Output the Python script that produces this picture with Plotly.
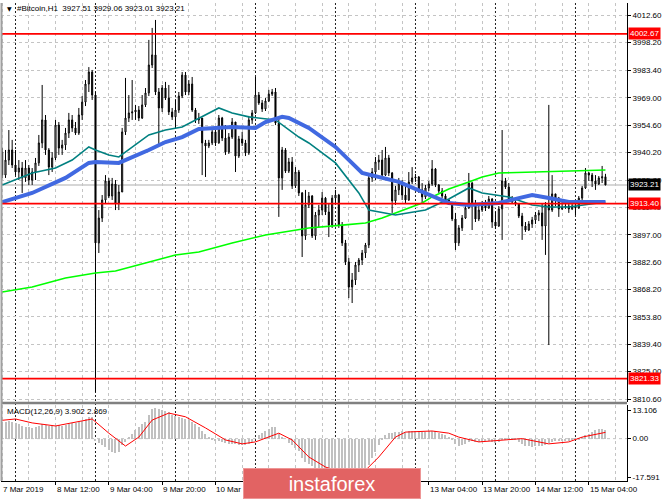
import datetime as dt
import plotly.graph_objects as go

# ---------------- data ----------------
symbol_title = "#Bitcoin,H1"
last_ohlc = [3927.51, 3929.06, 3923.01, 3923.21]
first_open = 3940.5

close = [3928.4, 3936.3, 3941.6, 3933.7, 3930.0, 3932.1, 3926.9, 3932.1, 3925.8, 3930.0,
         3934.8, 3945.3, 3957.4, 3941.6, 3932.6, 3937.4, 3954.7, 3942.6, 3944.2, 3950.5,
         3957.4, 3953.2, 3950.5, 3960.0, 3966.8, 3976.3, 3982.6, 3970.5, 3892.7, 3905.8,
         3915.3, 3925.3, 3917.4, 3923.7, 3913.7, 3919.5, 3951.1, 3958.4, 3961.1, 3961.6,
         3962.6, 3958.4, 3965.3, 3971.6, 3986.3, 3991.6, 3972.1, 3963.7, 3974.2, 3968.9,
         3961.6, 3959.0, 3962.6, 3970.0, 3981.0, 3972.1, 3976.3, 3962.6, 3957.4, 3958.4,
         3945.3, 3943.7, 3945.3, 3951.1, 3945.3, 3958.4, 3947.9, 3940.5, 3948.4, 3956.3,
         3938.4, 3947.4, 3945.3, 3940.0, 3957.4, 3961.1, 3970.5, 3966.3, 3963.2, 3967.4,
         3971.0, 3972.1, 3955.8, 3926.9, 3941.6, 3930.5, 3935.3, 3922.7, 3930.0, 3919.0,
         3896.4, 3912.7, 3917.4, 3896.4, 3907.4, 3910.0, 3916.3, 3909.0, 3902.1, 3916.3,
         3917.9, 3902.1, 3892.7, 3882.7, 3869.5, 3873.2, 3881.1, 3883.7, 3887.4, 3891.6,
         3926.9, 3930.0, 3935.3, 3936.3, 3928.4, 3937.4, 3929.5, 3914.8, 3920.6, 3924.2,
         3917.9, 3915.3, 3924.8, 3926.9, 3927.4, 3920.6, 3916.9, 3921.6, 3923.7, 3931.6,
         3923.2, 3920.0, 3917.4, 3915.3, 3913.7, 3905.3, 3892.7, 3900.6, 3905.8, 3911.1,
         3924.2, 3912.7, 3905.3, 3910.0, 3912.7, 3911.1, 3915.8, 3903.7, 3901.6, 3910.6,
         3925.3, 3922.1, 3915.8, 3914.2, 3913.2, 3906.9, 3901.6, 3899.5, 3902.7, 3904.8,
         3907.4, 3908.5, 3901.6, 3912.7, 3910.0, 3918.5, 3916.3, 3910.6, 3911.6, 3912.1,
         3910.6, 3912.1, 3911.1, 3916.3, 3921.6, 3929.5, 3928.4, 3925.3, 3923.7, 3926.9,
         3927.51, 3923.21]

high = [3942.6, 3941.6, 3952.1, 3946.9, 3941.6, 3936.3, 3935.3, 3936.3, 3933.7, 3932.1,
        3937.4, 3949.5, 3975.8, 3960.0, 3942.6, 3940.5, 3957.4, 3956.3, 3946.9, 3953.2,
        3961.1, 3960.0, 3956.3, 3963.7, 3970.0, 3978.4, 3985.2, 3983.7, 3972.1, 3910.0,
        3917.9, 3928.4, 3926.9, 3926.9, 3925.8, 3923.2, 3953.2, 3979.5, 3970.5, 3978.4,
        3965.3, 3964.7, 3970.5, 3974.2, 3999.5, 4005.8, 4010.0, 3974.2, 3975.8, 3977.4,
        3975.8, 3963.7, 3967.9, 3972.1, 3982.6, 3982.6, 3978.4, 3980.0, 3963.7, 3961.1,
        3958.4, 3946.9, 3946.9, 3953.2, 3952.1, 3960.0, 3959.0, 3954.7, 3950.5, 3958.4,
        3956.3, 3949.0, 3951.1, 3946.9, 3959.5, 3962.6, 3980.0, 3972.1, 3967.9, 3968.9,
        3973.2, 3973.7, 3974.2, 3958.4, 3943.2, 3942.6, 3937.4, 3937.9, 3932.6, 3931.1,
        3919.5, 3920.6, 3919.5, 3917.9, 3909.0, 3912.7, 3919.5, 3916.9, 3913.2, 3917.9,
        3920.6, 3918.5, 3903.7, 3894.3, 3884.8, 3876.9, 3882.7, 3884.8, 3889.0, 3892.7,
        3927.9, 3932.1, 3937.9, 3939.0, 3941.6, 3943.2, 3939.0, 3930.0, 3922.7, 3926.9,
        3925.8, 3923.2, 3930.0, 3932.6, 3929.0, 3927.9, 3924.2, 3923.2, 3925.3, 3936.3,
        3932.1, 3923.7, 3921.6, 3918.5, 3915.8, 3914.2, 3908.5, 3902.1, 3907.4, 3912.7,
        3929.5, 3924.8, 3915.3, 3913.7, 3914.8, 3915.3, 3917.4, 3916.3, 3909.0, 3912.1,
        3952.1, 3926.9, 3924.2, 3917.4, 3915.8, 3913.7, 3908.5, 3903.7, 3904.2, 3906.4,
        3909.0, 3910.0, 3913.7, 3914.2, 3965.3, 3928.4, 3917.9, 3916.9, 3914.2, 3913.2,
        3914.2, 3913.2, 3913.7, 3917.4, 3922.7, 3932.1, 3930.0, 3929.5, 3928.4, 3927.9,
        3933.2, 3929.06]

low = [3926.9, 3926.9, 3933.7, 3932.1, 3928.4, 3925.8, 3919.0, 3924.8, 3923.2, 3923.2,
       3925.8, 3933.2, 3942.6, 3939.0, 3928.4, 3930.0, 3936.3, 3939.0, 3939.0, 3941.6,
       3947.9, 3951.1, 3949.5, 3949.5, 3957.4, 3964.7, 3972.1, 3967.9, 3814.3, 3887.4,
       3903.7, 3913.7, 3916.3, 3915.3, 3910.0, 3910.0, 3919.5, 3949.5, 3956.3, 3957.4,
       3957.4, 3956.8, 3957.9, 3964.2, 3970.0, 3984.7, 3970.5, 3944.2, 3961.6, 3967.9,
       3960.0, 3957.4, 3953.2, 3961.1, 3968.9, 3970.5, 3970.5, 3961.6, 3955.8, 3955.3,
       3928.4, 3927.4, 3942.6, 3944.2, 3943.7, 3944.9, 3946.3, 3939.0, 3939.5, 3947.4,
       3930.0, 3937.4, 3943.7, 3938.4, 3939.0, 3955.3, 3960.5, 3965.3, 3961.6, 3962.1,
       3966.8, 3970.0, 3954.7, 3906.4, 3920.6, 3929.5, 3929.5, 3921.1, 3921.6, 3917.4,
       3885.3, 3894.3, 3911.1, 3895.3, 3894.3, 3900.6, 3907.4, 3907.4, 3895.8, 3900.6,
       3913.7, 3900.6, 3891.1, 3881.1, 3863.7, 3861.1, 3870.6, 3877.4, 3881.1, 3884.8,
       3890.0, 3924.8, 3925.8, 3931.1, 3926.9, 3927.9, 3927.9, 3908.5, 3912.7, 3917.9,
       3915.3, 3913.7, 3914.8, 3923.7, 3924.8, 3919.0, 3913.7, 3915.8, 3920.0, 3922.7,
       3922.1, 3919.0, 3916.3, 3914.2, 3912.7, 3904.2, 3889.0, 3891.1, 3899.0, 3905.3,
       3910.6, 3899.5, 3903.7, 3904.2, 3909.0, 3909.5, 3910.6, 3900.6, 3900.0, 3901.1,
       3894.3, 3921.1, 3914.8, 3913.2, 3912.1, 3905.8, 3894.3, 3898.5, 3899.0, 3900.6,
       3902.7, 3904.2, 3894.3, 3886.4, 3839.0, 3909.0, 3912.1, 3906.4, 3910.0, 3910.6,
       3908.5, 3910.0, 3907.4, 3910.6, 3915.3, 3921.1, 3925.3, 3922.1, 3920.6, 3923.2,
       3924.2, 3923.01]

# moving averages (bar index -> value)
ma_blue_idx = [0, 9, 19, 26, 28, 35, 44, 49, 54, 59, 69, 76, 79, 84, 86, 92, 100, 108,
               119, 127, 134, 140, 149, 155, 159, 164, 170, 181]
ma_blue_val = [3914.2, 3919.0, 3926.9, 3934.8, 3935.3, 3934.8, 3941.6, 3945.8, 3948.4,
               3952.6, 3953.7, 3953.2, 3956.3, 3959.0, 3958.4, 3953.2, 3943.2, 3929.5,
               3924.8, 3919.0, 3913.7, 3912.7, 3913.7, 3916.3, 3917.9, 3916.3, 3914.2, 3914.2]
ma_teal_idx = [0, 9, 16, 21, 26, 28, 32, 35, 44, 49, 54, 59, 65, 69, 74, 82, 89, 92, 100,
               107, 110, 118, 127, 134, 140, 144, 152, 159, 164, 170, 176, 181]
ma_teal_val = [3923.2, 3929.5, 3932.1, 3936.3, 3943.2, 3941.6, 3939.0, 3937.9, 3949.5,
               3952.1, 3953.7, 3958.4, 3963.7, 3961.1, 3959.0, 3957.4, 3948.4, 3945.3,
               3934.8, 3919.0, 3910.0, 3907.4, 3910.0, 3915.8, 3921.6, 3919.0, 3916.9,
               3912.7, 3911.6, 3911.6, 3913.2, 3914.2]
ma_green_idx = [0, 9, 19, 28, 34, 44, 52, 59, 69, 79, 85, 92, 102, 109, 114, 118, 122,
                126, 129, 134, 140, 144, 149, 161, 171, 181]
ma_green_val = [3866.9, 3869.5, 3874.3, 3876.9, 3877.9, 3882.7, 3886.4, 3887.9, 3892.7,
                3896.9, 3898.5, 3900.6, 3902.1, 3903.2, 3905.8, 3908.5, 3911.1, 3913.7,
                3916.9, 3921.1, 3924.8, 3927.4, 3929.5, 3930.0, 3930.5, 3931.1]

# MACD(12,26,9): main (histogram) and signal
macd_main = [7.5, 7.8, 8.0, 7.6, 7.0, 6.5, 6.0, 5.5, 5.2, 5.0,
             5.3, 5.8, 6.5, 6.2, 5.8, 5.6, 6.0, 6.2, 6.0, 6.3,
             6.8, 7.0, 7.2, 7.6, 8.2, 9.0, 9.8, 10.0, -1.0, -2.0,
             -3.0, -4.0, -5.0, -6.0, -6.5, -6.0, -3.0, -1.5, 0.5, 2.0,
             4.0, 5.5, 6.5, 7.5, 11.0, 13.5, 14.0, 13.5, 13.0, 12.5,
             12.0, 11.0, 10.5, 10.0, 9.5, 9.0, 8.5, 7.5, 6.5, 5.5,
             3.5, 2.0, 0.5, -0.5, -1.0, -1.0, -1.5, -2.0, -2.5, -2.5,
             -2.5, -3.0, -3.0, -3.0, -2.5, -1.5, 0.0, 1.5, 2.5, 3.5,
             4.5, 5.5, 5.5, 2.0, 0.5, 0.0, -2.0, -3.0, -4.5, -5.5,
             -9.0, -10.5, -11.5, -12.5, -13.5, -14.0, -14.0, -14.5, -15.0, -15.0,
             -15.0, -15.5, -16.0, -16.5, -17.3, -17.591, -17.5, -17.0, -16.5, -15.5,
             -12.0, -9.0, -6.0, -3.0, -0.5, 1.5, 2.5, 2.5, 3.0, 3.2,
             3.3, 3.2, 3.3, 3.5, 3.6, 3.4, 3.2, 3.2, 3.3, 3.6,
             3.4, 2.8, 2.2, 1.5, 0.8, -0.5, -2.5, -3.2, -3.0, -2.6,
             -1.5, -1.2, -1.5, -1.6, -1.5, -1.3, -1.0, -1.4, -1.8, -1.5,
             -0.5, -0.3, -0.4, -0.5, -0.8, -1.5, -2.5, -3.3, -3.6, -3.7,
             -3.5, -3.3, -3.5, -3.0, -2.2, -1.5, -1.2, -1.2, -1.1, -1.0,
             -0.9, -0.8, -0.5, -0.2, 0.5, 1.5, 2.3, 3.0, 3.8, 4.2,
             4.4, 3.902]
macd_signal_idx = [0, 4, 9, 16, 27, 32, 37, 41, 45, 50, 55, 61, 67, 72, 76, 83, 87, 92,
                   97, 100, 104, 109, 113, 118, 121, 129, 134, 137, 143, 152, 156, 164,
                   170, 174, 181]
macd_signal_val = [8.4, 9.0, 7.2, 5.8, 9.0, 2.5, -3.4, 0.7, 8.5, 11.7, 10.0, 4.9, -0.6,
                   -2.4, -1.5, 2.5, -0.6, -8.4, -13.0, -14.5, -15.0, -14.5, -8.4, 0.7,
                   3.0, 3.5, 2.5, 0.7, -1.5, -0.6, 0.0, -2.4, -1.5, 0.7, 2.869]
macd_last = [3.902, 2.869]
macd_scale_labels = [13.106, 0.0, -17.591]

levels_red = [4002.67, 3913.40, 3821.33]
bid_price = 3923.21
price_ticks = [4012.60, 3998.20, 3983.40, 3969.00, 3954.60, 3940.20, 3925.80, 3911.40,
               3897.00, 3882.60, 3868.20, 3853.80, 3839.40, 3825.00, 3810.60]
# visible time labels (those under the watermark box are not visible in the picture)
date_labels = ["7 Mar 2019", "8 Mar 12:00", "9 Mar 04:00", "9 Mar 20:00", "10 Mar 12:00",
               "13 Mar 04:00", "13 Mar 20:00", "14 Mar 12:00", "15 Mar 04:00"]
date_label_times = ["2019-03-07 20:00", "2019-03-08 12:00", "2019-03-09 04:00",
                    "2019-03-09 20:00", "2019-03-10 12:00", "2019-03-13 04:00",
                    "2019-03-13 20:00", "2019-03-14 12:00", "2019-03-15 04:00"]

# ---------------- build ----------------
start = dt.datetime(2019, 3, 7, 20, 0)
times = [start + dt.timedelta(hours=k) for k in range(len(close))]
opens = [first_open] + close[:-1]
highs = [max(h, o, c) for h, o, c in zip(high, opens, close)]
lows = [min(l, o, c) for l, o, c in zip(low, opens, close)]


def at(idx):
    return [times[i] for i in idx]


FONT = "Liberation Sans"
GRID = "#C4C4C4"
W, H = 665, 499
ML, MR, MT, MB = 1, 38, 3, 18
PW, PH = W - ML - MR, H - MT - MB


def px_x(px):
    return (px - ML) / PW


def px_y(py):
    return (H - MB - py) / PH


fig = go.Figure()
fig.add_trace(go.Candlestick(
    x=times, open=opens, high=highs, low=lows, close=close,
    increasing=dict(line=dict(color="black", width=1), fillcolor="white"),
    decreasing=dict(line=dict(color="black", width=1), fillcolor="black"),
    whiskerwidth=0, xaxis="x", yaxis="y", showlegend=False, hoverinfo="skip"))
fig.add_trace(go.Scatter(x=at(ma_green_idx), y=ma_green_val, mode="lines",
                         line=dict(color="#00FF00", width=1.6), xaxis="x", yaxis="y",
                         showlegend=False, hoverinfo="skip"))
fig.add_trace(go.Scatter(x=at(ma_teal_idx), y=ma_teal_val, mode="lines",
                         line=dict(color="#008080", width=1.6), xaxis="x", yaxis="y",
                         showlegend=False, hoverinfo="skip"))
fig.add_trace(go.Scatter(x=at(ma_blue_idx), y=ma_blue_val, mode="lines",
                         line=dict(color="#4169E1", width=4), xaxis="x", yaxis="y",
                         showlegend=False, hoverinfo="skip"))
fig.add_trace(go.Bar(x=times, y=macd_main, width=0.6 * 3600 * 1000,
                     marker=dict(color="#C0C0C0", line=dict(width=0)),
                     xaxis="x2", yaxis="y2", showlegend=False, hoverinfo="skip"))
fig.add_trace(go.Scatter(x=at(macd_signal_idx), y=macd_signal_val, mode="lines",
                         line=dict(color="#FF0000", width=1), xaxis="x2", yaxis="y2",
                         showlegend=False, hoverinfo="skip"))

base = dt.datetime(2019, 3, 8)
t_left = base + dt.timedelta(hours=-4.35)
t_right = base + dt.timedelta(hours=183.46)
major_times = [base + dt.timedelta(hours=h) for h in range(12, 184, 16)]
minor_times = [base + dt.timedelta(hours=h) for h in range(-4, 184, 8)
               if (base + dt.timedelta(hours=h)) not in major_times]
day_lines = [base + dt.timedelta(days=d) for d in range(0, 8)]

xcommon = dict(type="date", range=[t_left, t_right], showgrid=True, gridcolor=GRID,
               griddash="3px,3px", gridwidth=1, zeroline=False, fixedrange=True,
               tickvals=major_times, showticklabels=False,
               minor=dict(tickvals=minor_times, showgrid=True, gridcolor=GRID,
                          griddash="3px,3px", gridwidth=1, ticks=""),
               rangeslider=dict(visible=False))

main_bottom = px_y(402)
macd_top = px_y(405)

fig.update_layout(
    width=W, height=H, margin=dict(l=ML, r=MR, t=MT, b=MB),
    paper_bgcolor="white", plot_bgcolor="white", hovermode=False,
    font=dict(family=FONT, size=8, color="black"),
    showlegend=False, boxgap=0.55, bargap=0,
    xaxis=dict(domain=[0, 1], anchor="y", ticks="", showline=False, **xcommon),
    xaxis2=dict(domain=[0, 1], anchor="y2", matches="x", ticks="outside", ticklen=3,
                tickcolor="black", showline=True, linecolor="black", linewidth=1,
                **xcommon),
    yaxis=dict(domain=[main_bottom, 1], anchor="x", side="right",
               range=[3809.04, 4018.91], tickvals=price_ticks,
               ticktext=[f"{v:.2f}" for v in price_ticks], ticks="outside", ticklen=3,
               tickcolor="black", showline=True, linecolor="black", linewidth=1,
               showgrid=True, gridcolor=GRID, griddash="3px,3px", zeroline=False,
               fixedrange=True, tickfont=dict(size=8, family=FONT)),
    yaxis2=dict(domain=[0, macd_top], anchor="x2", side="right", range=[-19.4, 15.4],
                tickvals=macd_scale_labels,
                ticktext=["13.106", "0.00", "-17.591"], ticks="outside", ticklen=3,
                tickcolor="black", showline=True, linecolor="black", linewidth=1,
                showgrid=False, zeroline=False, fixedrange=True,
                tickfont=dict(size=8, family=FONT)),
)

shapes = []
for d in day_lines:
    shapes.append(dict(type="line", xref="x", yref="paper", x0=d, x1=d, y0=0, y1=1,
                       line=dict(color="#202020", width=1, dash="2px,2px"), layer="below"))
shapes.append(dict(type="line", xref="paper", yref="y2", x0=0, x1=1, y0=0, y1=0,
                   line=dict(color=GRID, width=1, dash="3px,3px"), layer="below"))
shapes.append(dict(type="line", xref="paper", yref="y", x0=0, x1=1, y0=bid_price,
                   y1=bid_price, line=dict(color="#C8C8C8", width=1.5), layer="below"))
for lv in levels_red:
    shapes.append(dict(type="line", xref="paper", yref="y", x0=0, x1=1, y0=lv, y1=lv,
                       line=dict(color="#FF0000", width=1.6), layer="above"))
shapes.append(dict(type="line", xref="paper", yref="paper", x0=0, x1=1,
                   y0=px_y(403), y1=px_y(403), line=dict(color="#808080", width=2.5)))
shapes.append(dict(type="line", xref="paper", yref="paper", x0=px_x(1.5), x1=px_x(1.5),
                   y0=0, y1=1, line=dict(color="#A0A0A0", width=2)))
fig.update_layout(shapes=shapes)

ann = []
ann.append(dict(xref="paper", yref="paper", x=px_x(5), y=px_y(8.5), xanchor="left",
                yanchor="middle", text="▼", showarrow=False,
                font=dict(size=6, family="DejaVu Sans", color="black")))
ann.append(dict(xref="paper", yref="paper", x=px_x(15), y=px_y(9), xanchor="left",
                yanchor="middle", showarrow=False,
                text=symbol_title + "\u00a0\u00a0" + " ".join(f"{v:.2f}" for v in last_ohlc),
                font=dict(size=8, family=FONT, color="black")))
ann.append(dict(xref="paper", yref="paper", x=px_x(5), y=px_y(411.5), xanchor="left",
                yanchor="middle", showarrow=False,
                text="MACD(12,26,9) " + " ".join(f"{v:.3f}" for v in macd_last),
                font=dict(size=8, family=FONT, color="black")))
for t, s in zip(date_label_times, date_labels):
    ann.append(dict(xref="x2", yref="paper", x=t, y=px_y(489), xanchor="left",
                    yanchor="middle", xshift=-1, showarrow=False, text=s,
                    font=dict(size=8, family=FONT, color="black")))
for lv in levels_red:
    ann.append(dict(xref="paper", yref="y", x=1, y=lv, xanchor="left", yanchor="middle",
                    xshift=1, showarrow=False, text=f"{lv:.2f}", bgcolor="#FF0000",
                    borderpad=1, font=dict(size=8, family=FONT, color="white")))
ann.append(dict(xref="paper", yref="y", x=1, y=bid_price, xanchor="left",
                yanchor="middle", xshift=1, showarrow=False, text=f"{bid_price:.2f}",
                bgcolor="black", borderpad=1, font=dict(size=8, family=FONT, color="white")))
# watermark
ann.append(dict(xref="paper", yref="paper", x=px_x(243), y=px_y(499), xanchor="left",
                yanchor="bottom", showarrow=False, text="instaforex", width=176, height=29,
                align="center", valign="middle", bgcolor="rgb(226,99,99)",
                bordercolor="rgb(238,150,150)", borderwidth=1, borderpad=0,
                font=dict(size=20, family=FONT, color="white")))
fig.update_layout(annotations=ann)

fig.write_html("out.html", config={"displayModeBar": False},
               post_script="document.body.style.margin='0px';"
                           "document.body.style.overflow='hidden';")
